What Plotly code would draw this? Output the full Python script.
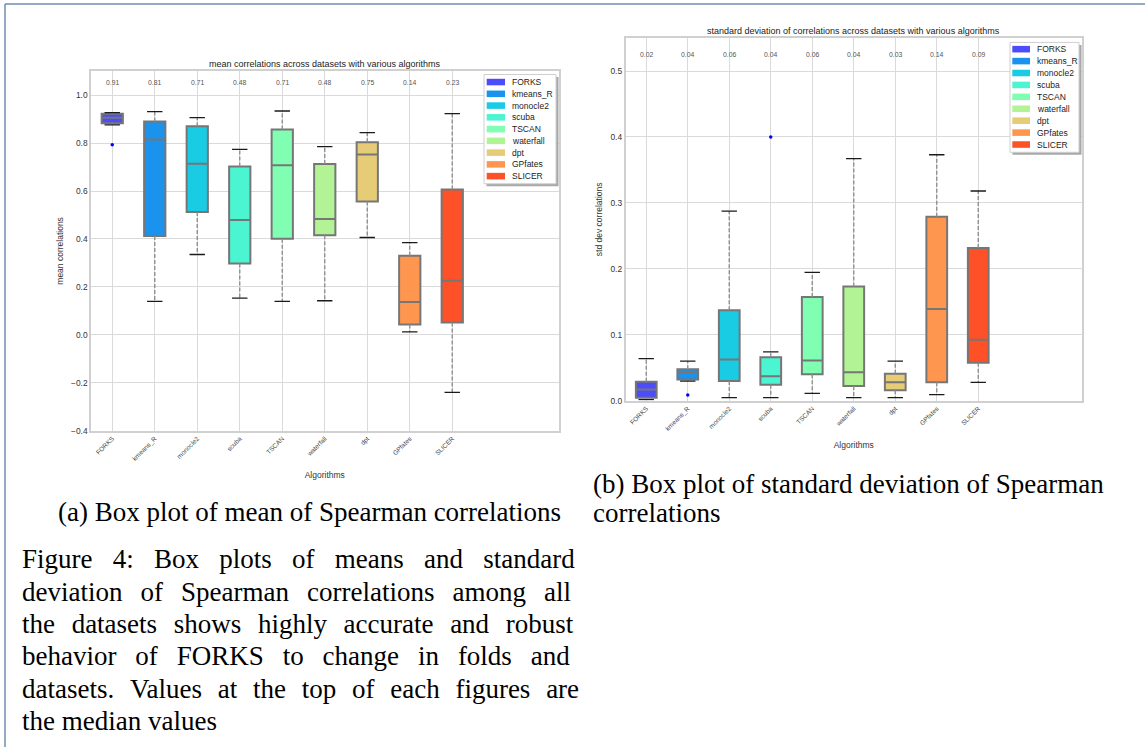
import plotly.graph_objects as go

W, H = 1145, 752

# ---------------- data ----------------
algorithms = ["FORKS", "kmeans_R", "monocle2", "scuba", "TSCAN",
              "waterfall", "dpt", "GPfates", "SLICER"]
colors = ["#4c4cfc", "#1a93ee", "#19cbe3", "#4cf5d1", "#80ffb3",
          "#b2f395", "#e6cc77", "#ff9650", "#ff5128"]

# mean of Spearman correlations (panel a)
mean_lower = [0.876, 0.139, 0.335, 0.153, 0.139, 0.142, 0.406, 0.012, -0.240]
mean_q1 = [0.883, 0.412, 0.512, 0.297, 0.401, 0.415, 0.556, 0.043, 0.051]
mean_median = [0.906, 0.815, 0.714, 0.479, 0.708, 0.483, 0.752, 0.137, 0.225]
mean_q3 = [0.923, 0.890, 0.870, 0.702, 0.857, 0.713, 0.804, 0.330, 0.606]
mean_upper = [0.927, 0.931, 0.906, 0.774, 0.934, 0.785, 0.844, 0.385, 0.923]
mean_flier_alg = ["FORKS"]
mean_flier_val = [0.793]
mean_labels = ["0.91", "0.81", "0.71", "0.48", "0.71", "0.48", "0.75", "0.14", "0.23"]

# standard deviation of Spearman correlations (panel b)
std_lower = [0.0015, 0.0296, 0.0045, 0.0045, 0.011, 0.0045, 0.0045, 0.009, 0.0276]
std_q1 = [0.0045, 0.032, 0.0296, 0.024, 0.040, 0.022, 0.0156, 0.028, 0.0573]
std_median = [0.017, 0.0432, 0.0623, 0.037, 0.061, 0.043, 0.028, 0.139, 0.0925]
std_q3 = [0.0286, 0.0477, 0.137, 0.0658, 0.157, 0.173, 0.0407, 0.279, 0.2317]
std_upper = [0.0638, 0.0598, 0.2875, 0.0739, 0.1945, 0.367, 0.0598, 0.373, 0.318]
std_flier_alg = ["kmeans_R", "scuba"]
std_flier_val = [0.0085, 0.40]
std_labels = ["0.02", "0.04", "0.06", "0.04", "0.06", "0.04", "0.03", "0.14", "0.09"]

caption_a = "(a) Box plot of mean of Spearman correlations"
caption_b = ["(b) Box plot of standard deviation of Spearman", "correlations"]
figure_caption = [
    "Figure 4: Box plots of means and standard",
    "deviation of Spearman correlations among all",
    "the datasets shows highly accurate and robust",
    "behavior of FORKS to change in folds and",
    "datasets. Values at the top of each figures are",
    "the median values",
]
# extra inter-word space per caption line (emulates LaTeX justification)
caption_gap = ["\u2002", "\u2004\u200a", "\u2009\u2006", "\u2009\u2005", "\u2004", ""]

# ---------------- helpers ----------------
def px(x):
    return x / W


def py(y):
    return 1 - y / H


positions = list(range(1, len(algorithms) + 1))
pos_of = dict(zip(algorithms, positions))

fig = go.Figure()
shapes = []
annotations = []

GRID = "#dadada"
SPINE = "#d0d0d0"
SANS = "Liberation Sans, Arial, sans-serif"
SERIF = "Liberation Serif, Times New Roman, serif"


def add_panel(xref, yref, lower, q1, med, q3, upper, flier_alg, flier_val):
    # dashed whiskers
    wx, wy = [], []
    for p, lo, a, b, hi in zip(positions, lower, q1, q3, upper):
        wx += [p, p, None, p, p, None]
        wy += [b, hi, None, a, lo, None]
    fig.add_trace(go.Scatter(x=wx, y=wy, mode="lines", xaxis=xref, yaxis=yref,
                             line=dict(color="#8f8f8f", width=1.4, dash="4px,2px"),
                             showlegend=False, hoverinfo="skip"))
    # caps
    cx, cy = [], []
    for p, lo, hi in zip(positions, lower, upper):
        cx += [p, p]
        cy += [lo, hi]
    fig.add_trace(go.Scatter(x=cx, y=cy, mode="markers", xaxis=xref, yaxis=yref,
                             marker=dict(symbol="line-ew", size=11,
                                         line=dict(color="#1a1a1a", width=1.3)),
                             showlegend=False, hoverinfo="skip"))
    # boxes
    for i, name in enumerate(algorithms):
        fig.add_trace(go.Box(x=[positions[i]], q1=[q1[i]], median=[med[i]], q3=[q3[i]],
                             lowerfence=[q1[i]], upperfence=[q3[i]],
                             width=0.5, fillcolor=colors[i],
                             line=dict(color="#767676", width=2),
                             whiskerwidth=0, boxpoints=False, name=name,
                             xaxis=xref, yaxis=yref, showlegend=False))
    # fliers
    fig.add_trace(go.Scatter(x=[pos_of[a] for a in flier_alg], y=flier_val, mode="markers",
                             xaxis=xref, yaxis=yref,
                             marker=dict(color="#0000ff", size=3.5),
                             showlegend=False, hoverinfo="skip"))


add_panel("x", "y", mean_lower, mean_q1, mean_median, mean_q3, mean_upper,
          mean_flier_alg, mean_flier_val)
add_panel("x2", "y2", std_lower, std_q1, std_median, std_q3, std_upper,
          std_flier_alg, std_flier_val)

# median labels on top of each panel
for p, t in zip(positions, mean_labels):
    annotations.append(dict(x=p, y=1.055, xref="x", yref="y", text=t, showarrow=False,
                            font=dict(size=6.8, color="#555", family=SANS)))
for p, t in zip(positions, std_labels):
    annotations.append(dict(x=p, y=0.525, xref="x2", yref="y2", text=t, showarrow=False,
                            font=dict(size=6.8, color="#555", family=SANS)))

# panel titles
annotations.append(dict(x=px(324.7), y=py(64.3), xref="paper", yref="paper",
                        xanchor="center", yanchor="middle",
                        text="mean correlations across datasets with various algorithms",
                        showarrow=False, font=dict(size=9, color="#222", family=SANS)))
annotations.append(dict(x=px(853.7), y=py(31.5), xref="paper", yref="paper",
                        xanchor="center", yanchor="middle",
                        text="standard deviation of correlations across datasets with various algorithms",
                        showarrow=False, font=dict(size=9, color="#222", family=SANS)))


# custom legends (matplotlib style with shadow)
def add_legend(x0, y0, x1, y1, first_y, step, patch_x0, patch_x1, text_x):
    shapes.append(dict(type="rect", xref="paper", yref="paper", layer="above",
                       x0=px(x0 + 2.5), x1=px(x1 + 2.5), y0=py(y0 + 2.5), y1=py(y1 + 2.5),
                       fillcolor="#a8a8a8", line=dict(width=0)))
    shapes.append(dict(type="rect", xref="paper", yref="paper", layer="above",
                       x0=px(x0), x1=px(x1), y0=py(y0), y1=py(y1),
                       fillcolor="white", line=dict(color="#cfcfcf", width=1)))
    for i, name in enumerate(algorithms):
        yc = first_y + step * i
        shapes.append(dict(type="rect", xref="paper", yref="paper", layer="above",
                           x0=px(patch_x0), x1=px(patch_x1), y0=py(yc - 3.3), y1=py(yc + 3.3),
                           fillcolor=colors[i], line=dict(width=0)))
        annotations.append(dict(x=px(text_x), y=py(yc), xref="paper", yref="paper",
                                text=name, showarrow=False, xanchor="left", yanchor="middle",
                                font=dict(size=8.5, color="#222", family=SANS)))


add_legend(484, 75, 556, 185, 82.6, 11.84, 486.7, 505, 510)
add_legend(1010, 42.7, 1079, 153.3, 49.5, 12.0, 1012.3, 1030, 1035)

# captions
CAP = 27
annotations.append(dict(x=px(309.5), y=py(515), xref="paper", yref="paper", text=caption_a,
                        showarrow=False, xanchor="center", yanchor="middle",
                        font=dict(size=CAP, color="black", family=SERIF)))
for k, line in enumerate(caption_b):
    annotations.append(dict(x=px(591), y=py(487 + 29.5 * k), xref="paper", yref="paper",
                            text=line, showarrow=False, xanchor="left", yanchor="middle",
                            font=dict(size=CAP, color="black", family=SERIF)))
for k, line in enumerate(figure_caption):
    text = line.replace(" ", " " + caption_gap[k])
    annotations.append(dict(x=px(20), y=py(563 + 32.6 * k), xref="paper", yref="paper",
                            text=text, showarrow=False, xanchor="left", yanchor="middle",
                            font=dict(size=CAP, color="black", family=SERIF)))

# page frame (left and top rules)
shapes.append(dict(type="line", xref="paper", yref="paper", x0=px(5), x1=px(5),
                   y0=0, y1=py(4), line=dict(color="#6f8cb2", width=1.5)))
shapes.append(dict(type="line", xref="paper", yref="paper", x0=px(5), x1=1,
                   y0=py(4), y1=py(4), line=dict(color="#6f8cb2", width=1.5)))

common_x = dict(range=[0.5, 11.5], tickmode="array", tickvals=positions, ticktext=algorithms,
                tickangle=-45, tickfont=dict(size=6.5, color="#444"), showgrid=True,
                gridcolor=GRID, gridwidth=1.3, showline=True, mirror=True, linecolor=SPINE,
                linewidth=1.5, zeroline=False, ticks="", fixedrange=True)
common_y = dict(showgrid=True, gridcolor=GRID, gridwidth=1.3, showline=True, mirror=True,
                linecolor=SPINE, linewidth=1.5, zeroline=False, ticks="",
                tickfont=dict(size=8.4, color="#333"), tickformat=".1f", fixedrange=True)

fig.update_layout(
    width=W, height=H, autosize=False,
    margin=dict(l=0, r=0, t=0, b=0),
    paper_bgcolor="white", plot_bgcolor="white",
    font=dict(family=SANS, color="#333"),
    showlegend=False,
    xaxis=dict(domain=[px(91), px(558.5)], anchor="y",
               title=dict(text="Algorithms", font=dict(size=8.5, color="#333"), standoff=10),
               **common_x),
    yaxis=dict(domain=[py(433.5), py(71.7)], anchor="x", range=[-0.4, 1.1],
               tick0=-0.4, dtick=0.2,
               title=dict(text="mean correlations", font=dict(size=8.5, color="#333"), standoff=6),
               **common_y),
    xaxis2=dict(domain=[px(625.5), px(1082)], anchor="y2",
                title=dict(text="Algorithms", font=dict(size=8.5, color="#333"), standoff=10),
                **common_x),
    yaxis2=dict(domain=[py(403.3), py(38.3)], anchor="x2", range=[0, 0.55],
                tick0=0, dtick=0.1,
                title=dict(text="std dev correlations", font=dict(size=8.5, color="#333"), standoff=6),
                **common_y),
    shapes=shapes,
    annotations=annotations,
)

fig.write_html("out.html", config={"displayModeBar": False},
               post_script="document.body.style.margin='0px';document.body.style.overflow='hidden';")
